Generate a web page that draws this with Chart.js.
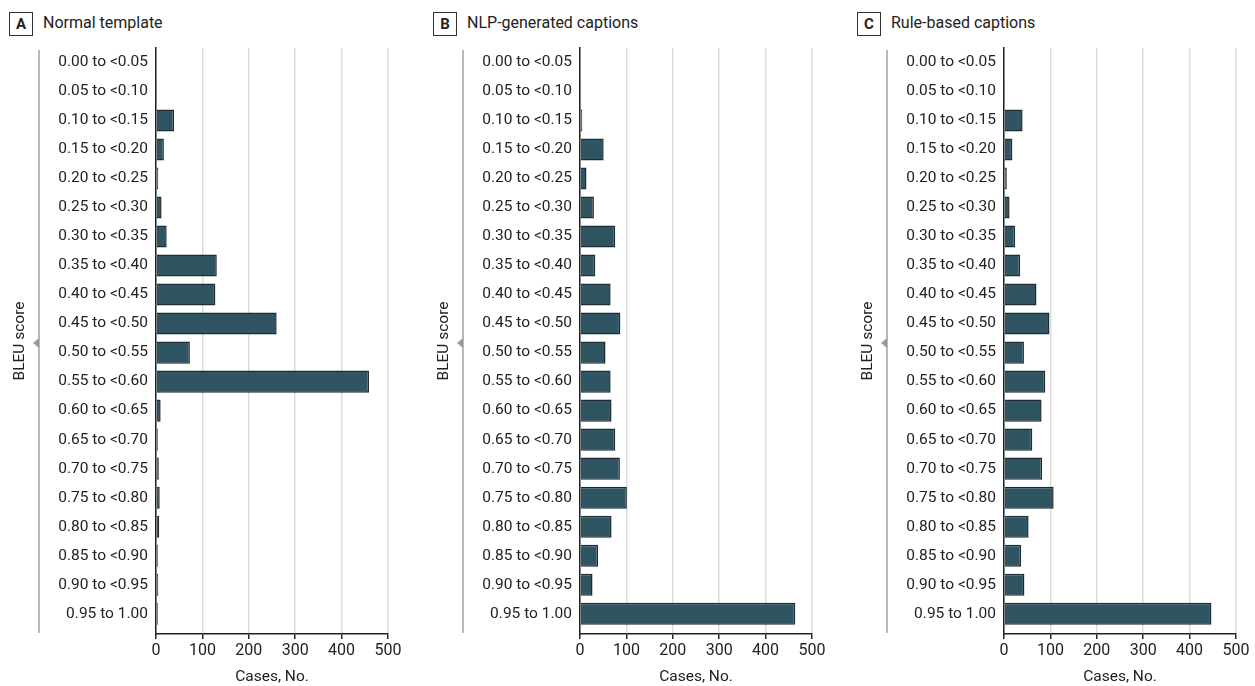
<!DOCTYPE html>
<html>
<head>
<meta charset="utf-8">
<script src="https://cdn.jsdelivr.net/npm/chart.js@4/dist/chart.umd.min.js"></script>
<style>
  body {
    margin: 0;
    width: 1255px;
    height: 686px;
    overflow: hidden;
    background: #fff;
    font-family: Roboto, sans-serif;
    color: #222;
  }
  .panel {
    position: absolute;
    top: 0;
    width: 424px;
    height: 686px;
  }
  .panel canvas {
    position: absolute;
    left: 0;
    top: 0;
  }
  .panel-letter {
    position: absolute;
    left: 9px;
    top: 12px;
    width: 22px;
    height: 22px;
    border: 1px solid #333;
    font: bold 15px Roboto, sans-serif;
    line-height: 22px;
    text-align: center;
  }
  .panel-title {
    position: absolute;
    left: 43px;
    top: 13px;
    font-size: 16px;
    white-space: nowrap;
  }
  .bracket {
    position: absolute;
    left: 38px;
    top: 50px;
    height: 583px;
    border-left: 2px solid #b8b8b8;
  }
  .bracket-arrow {
    position: absolute;
    left: 33px;
    top: 338px;
    width: 0;
    height: 0;
    border-top: 5px solid transparent;
    border-bottom: 5px solid transparent;
    border-right: 6px solid #999;
  }
</style>
</head>
<body>

<div class="panel" style="left: 0px">
  <div class="panel-letter">A</div>
  <div class="panel-title">Normal template</div>
  <div class="bracket"></div>
  <div class="bracket-arrow"></div>
  <canvas id="chartA" width="424" height="686"></canvas>
</div>

<div class="panel" style="left: 424px">
  <div class="panel-letter">B</div>
  <div class="panel-title">NLP-generated captions</div>
  <div class="bracket"></div>
  <div class="bracket-arrow"></div>
  <canvas id="chartB" width="424" height="686"></canvas>
</div>

<div class="panel" style="left: 848px">
  <div class="panel-letter">C</div>
  <div class="panel-title">Rule-based captions</div>
  <div class="bracket"></div>
  <div class="bracket-arrow"></div>
  <canvas id="chartC" width="424" height="686"></canvas>
</div>

<script>
// BLEU score bins (y axis categories)
const bleuBins = [
  "0.00 to <0.05", "0.05 to <0.10", "0.10 to <0.15", "0.15 to <0.20",
  "0.20 to <0.25", "0.25 to <0.30", "0.30 to <0.35", "0.35 to <0.40",
  "0.40 to <0.45", "0.45 to <0.50", "0.50 to <0.55", "0.55 to <0.60",
  "0.60 to <0.65", "0.65 to <0.70", "0.70 to <0.75", "0.75 to <0.80",
  "0.80 to <0.85", "0.85 to <0.90", "0.90 to <0.95", "0.95 to 1.00",
];

// Cases per bin
const normalTemplateCases = [0, 1, 39, 17, 5, 12, 23, 131, 128, 260, 73, 459, 10, 4, 6, 8, 7, 4, 5, 4];
const nlpCaptionCases = [0, 2, 5, 51, 14, 30, 76, 33, 66, 87, 55, 66, 68, 76, 86, 101, 68, 39, 27, 464];
const ruleBasedCases = [0, 1, 40, 18, 6, 12, 24, 35, 70, 98, 43, 89, 81, 61, 82, 107, 53, 37, 44, 447];

// x axis ticks
const caseTicks = [0, 100, 200, 300, 400, 500];

const barColor = "#2f5562";
const barBorder = "#1d2c32";
const gridColor = "#dcdcdc";
const axisColor = "#222";
const fontFamily = "Roboto, sans-serif";

function createPanelChart(canvasId, values) {
  new Chart(document.getElementById(canvasId), {
    type: "bar",
    data: {
      labels: bleuBins,
      datasets: [
        {
          data: values,
          backgroundColor: barColor,
          borderColor: barBorder,
          borderWidth: 1.5,
          barPercentage: 0.76,
          categoryPercentage: 1,
        },
      ],
    },
    options: {
      indexAxis: "y",
      responsive: false,
      animation: false,
      layout: {
        padding: { top: 48, left: 0, right: 36, bottom: 0 },
      },
      plugins: {
        legend: { display: false },
        tooltip: { enabled: false },
      },
      scales: {
        x: {
          min: 0,
          max: 500,
          afterBuildTicks: (scale) => {
            scale.ticks = caseTicks.map((v) => ({ value: v }));
          },
          afterFit: (scale) => {
            scale.height = 52;
          },
          grid: {
            color: gridColor,
            lineWidth: 1.5,
            tickColor: axisColor,
            tickLength: 5,
          },
          border: { color: axisColor, width: 1.5 },
          ticks: {
            color: "#222",
            padding: 2,
            font: { family: fontFamily, size: 16 },
          },
          title: {
            display: true,
            text: "Cases, No.",
            color: "#222",
            padding: { top: 0, bottom: 0 },
            font: { family: fontFamily, size: 15.5 },
          },
        },
        y: {
          afterBuildTicks: (scale) => {
            // leave a little empty room under the last bin, as in the original
            scale._valueRange = bleuBins.length + 0.2;
          },
          afterFit: (scale) => {
            scale.width = 156;
          },
          grid: { display: false, drawTicks: false },
          border: { color: axisColor, width: 1.5 },
          ticks: {
            color: "#222",
            padding: 8,
            autoSkip: false,
            font: { family: fontFamily, size: 15.5 },
          },
          title: {
            display: true,
            text: "BLEU score",
            color: "#222",
            padding: { top: 11, bottom: 0 },
            font: { family: fontFamily, size: 15.5 },
          },
        },
      },
    },
  });
}

createPanelChart("chartA", normalTemplateCases);
createPanelChart("chartB", nlpCaptionCases);
createPanelChart("chartC", ruleBasedCases);
</script>
</body>
</html>
